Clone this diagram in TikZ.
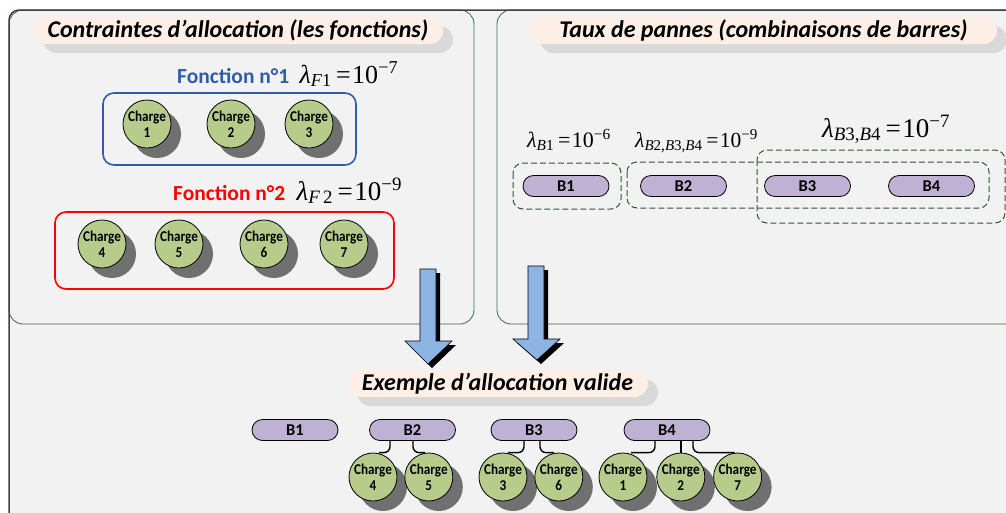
\documentclass[tikz,border=0pt]{standalone}
\usepackage{fontspec}
\setmainfont{Carlito}
\newfontfamily\tnr{Liberation Serif}
\newfontfamily\chfont[FakeStretch=0.88]{Carlito}
\usetikzlibrary{positioning,shadows,calc}
\definecolor{bgcol}{HTML}{F2F2F2}
\definecolor{framecol}{HTML}{404040}
\definecolor{panelcol}{HTML}{3A6B47}
\definecolor{peach}{HTML}{FDEFE5}
\definecolor{tshadow}{HTML}{D9D9D9}
\definecolor{chcol}{HTML}{B7CB8B}
\definecolor{chshadow}{HTML}{707070}
\definecolor{barcol}{HTML}{BFB1D3}
\definecolor{fnblue}{HTML}{2F5DAA}
\definecolor{fnred}{HTML}{FF0000}
\definecolor{dashcol}{HTML}{2F5535}
\definecolor{arrcol}{HTML}{8DB4E2}
\newcommand{\lam}[2]{\textit{λ}\textsubscript{#1}\,=\hspace{1.5pt}10\textsuperscript{−#2}}

\begin{document}
\begin{tikzpicture}[
   x=1pt,y=-1pt,
   charge/.style={circle,draw=black,line width=0.8pt,fill=chcol,minimum size=48pt,
                  inner sep=0pt,align=center,font=\chfont\bfseries\fontsize{15}{16}\selectfont,
                  drop shadow={shadow xshift=10pt,shadow yshift=-10pt,fill=chshadow,opacity=1}},
   bar/.style={rounded corners=10.5pt,draw=black,line width=0.8pt,fill=barcol,
               minimum width=86pt,minimum height=21pt,inner sep=0pt,
               font=\bfseries\fontsize{16.5}{16.5}\selectfont},
   titlebox/.style={rounded corners=13.5pt,fill=peach,minimum height=27pt,inner sep=0pt,
                    font=\bfseries\itshape\fontsize{24}{24}\selectfont,
                    drop shadow={shadow xshift=10pt,shadow yshift=-9pt,fill=tshadow,opacity=1}},
   fnlabel/.style={anchor=base west,inner sep=0pt,text=#1,font=\bfseries\fontsize{21.5}{21.5}\selectfont},
   lamlabel/.style={anchor=base west,inner sep=0pt,font=\tnr\fontsize{#1}{#1}\selectfont},
   fnbox/.style={draw=#1,line width=1.6pt,rounded corners=11pt},
   dashbox/.style={draw=dashcol,dash pattern=on 6pt off 3pt,line width=1pt,rounded corners=10pt},
   link/.style={draw=black,line width=1.4pt,rounded corners=6pt},
   blockarrow/.style={draw=black,line width=0.6pt,fill=arrcol,
                      drop shadow={shadow xshift=4pt,shadow yshift=-4pt,fill=black,opacity=1}},
]
\clip (0,0) rectangle (1006,512);

% frame and panels
\fill[bgcol,rounded corners=10pt] (9,10) rectangle (1040,540);
\draw[panelcol,line width=0.8pt,rounded corners=14pt] (9,10) rectangle (474,324);
\draw[panelcol,line width=0.8pt,rounded corners=14pt] (497,10) rectangle (1040,324);
\draw[framecol,line width=1.5pt,rounded corners=10pt] (9,10) rectangle (1040,540);

% titles
\node[titlebox,minimum width=410pt] (ttl1) at (238,30.5) {Contraintes d’allocation (les fonctions)};
\node[titlebox,minimum width=467pt] (ttl2) at (763.5,30.5) {Taux de pannes (combinaisons de barres)};
\node[titlebox,minimum width=301pt] (ttl3) at (497.5,383.5) {Exemple d’allocation valide};

% functions
\node[fnlabel=fnblue] (fn1) at (177,83) {Fonction n°1};
\node[lamlabel=26, right=10pt of fn1.base east, anchor=base west] (lf1) {\lam{\textit{F}1}{7}};
\draw[fnbox=fnblue] (103,93) rectangle (356,165);
\node[charge] (c1) at (147,124) {Charge\\1};
\node[charge] (c2) at (231,124) {Charge\\2};
\node[charge] (c3) at (309,124) {Charge\\3};

\node[fnlabel=fnred] (fn2) at (173,200) {Fonction n°2};
\node[lamlabel=27, right=11pt of fn2.base east, anchor=base west] (lf2) {\lam{\textit{F}\,2}{9}};
\draw[fnbox=fnred] (55,212) rectangle (394,289);
\node[charge] (c4) at (102,244) {Charge\\4};
\node[charge] (c5) at (179,244) {Charge\\5};
\node[charge] (c6) at (264,244) {Charge\\6};
\node[charge] (c7) at (344,244) {Charge\\7};

% bus combinations
\node[lamlabel=22] (lb1) at (527,147) {\lam{\textit{B}1}{6}};
\node[lamlabel=21.5] (lb234) at (635,147) {\lam{\textit{B}2,\textit{B}3,\textit{B}4}{9}};
\node[lamlabel=27] (lb34) at (822,137) {\lam{\textit{B}3,\textit{B}4}{7}};
\draw[dashbox] (513,163) rectangle (621,209);
\draw[dashbox] (627,162) rectangle (989,208);
\draw[dashbox] (757,150) rectangle (1005,223);
\node[bar] (tb1) at (566,186) {B1};
\node[bar] (tb2) at (683.5,186) {B2};
\node[bar] (tb3) at (807.5,186) {B3};
\node[bar] (tb4) at (931.5,186) {B4};

% valid allocation
\node[bar] (bb1) at (295,430) {B1};
\node[bar] (bb2) at (412.5,430) {B2};
\node[bar] (bb3) at (534,430) {B3};
\node[bar] (bb4) at (667,430) {B4};
\node[charge] (cc4) at (373,477) {Charge\\4};
\node[charge, right=7pt of cc4] (cc5) {Charge\\5};
\node[charge] (cc3) at (503,477) {Charge\\3};
\node[charge, right=7pt of cc3] (cc6) {Charge\\6};
\node[charge] (cc1) at (623,477) {Charge\\1};
\node[charge, right=9pt of cc1] (cc2) {Charge\\2};
\node[charge, right=8pt of cc2] (cc7) {Charge\\7};

\draw[link] ([xshift=-22.5pt]bb2.south) |- ([xshift=6pt]cc4.north);
\draw[link] ([xshift=0.5pt]bb2.south) |- ([xshift=-4pt]cc5.north);
\draw[link] ([xshift=-10pt]bb3.south) |- ([xshift=5pt]cc3.north);
\draw[link] ([xshift=6pt]bb3.south) |- ([xshift=-5pt]cc6.north);
\draw[link] ([xshift=-12pt]bb4.south) |- ([xshift=8pt]cc1.north);
\draw[link] (bb4.south -| cc2.north) -- (cc2.north);
\draw[link] ([xshift=26pt]bb4.south) |- ([xshift=-3pt]cc7.north);

% block arrows
\draw[blockarrow] (420,269) -- (436,269) -- (436,341) -- (452,341) -- (428,364)
      -- (405,341) -- (420,341) -- cycle;
\draw[blockarrow] (528,266) -- (544,266) -- (544,339) -- (560,339) -- (537,360)
      -- (513,339) -- (528,339) -- cycle;

\end{tikzpicture}
\end{document}
